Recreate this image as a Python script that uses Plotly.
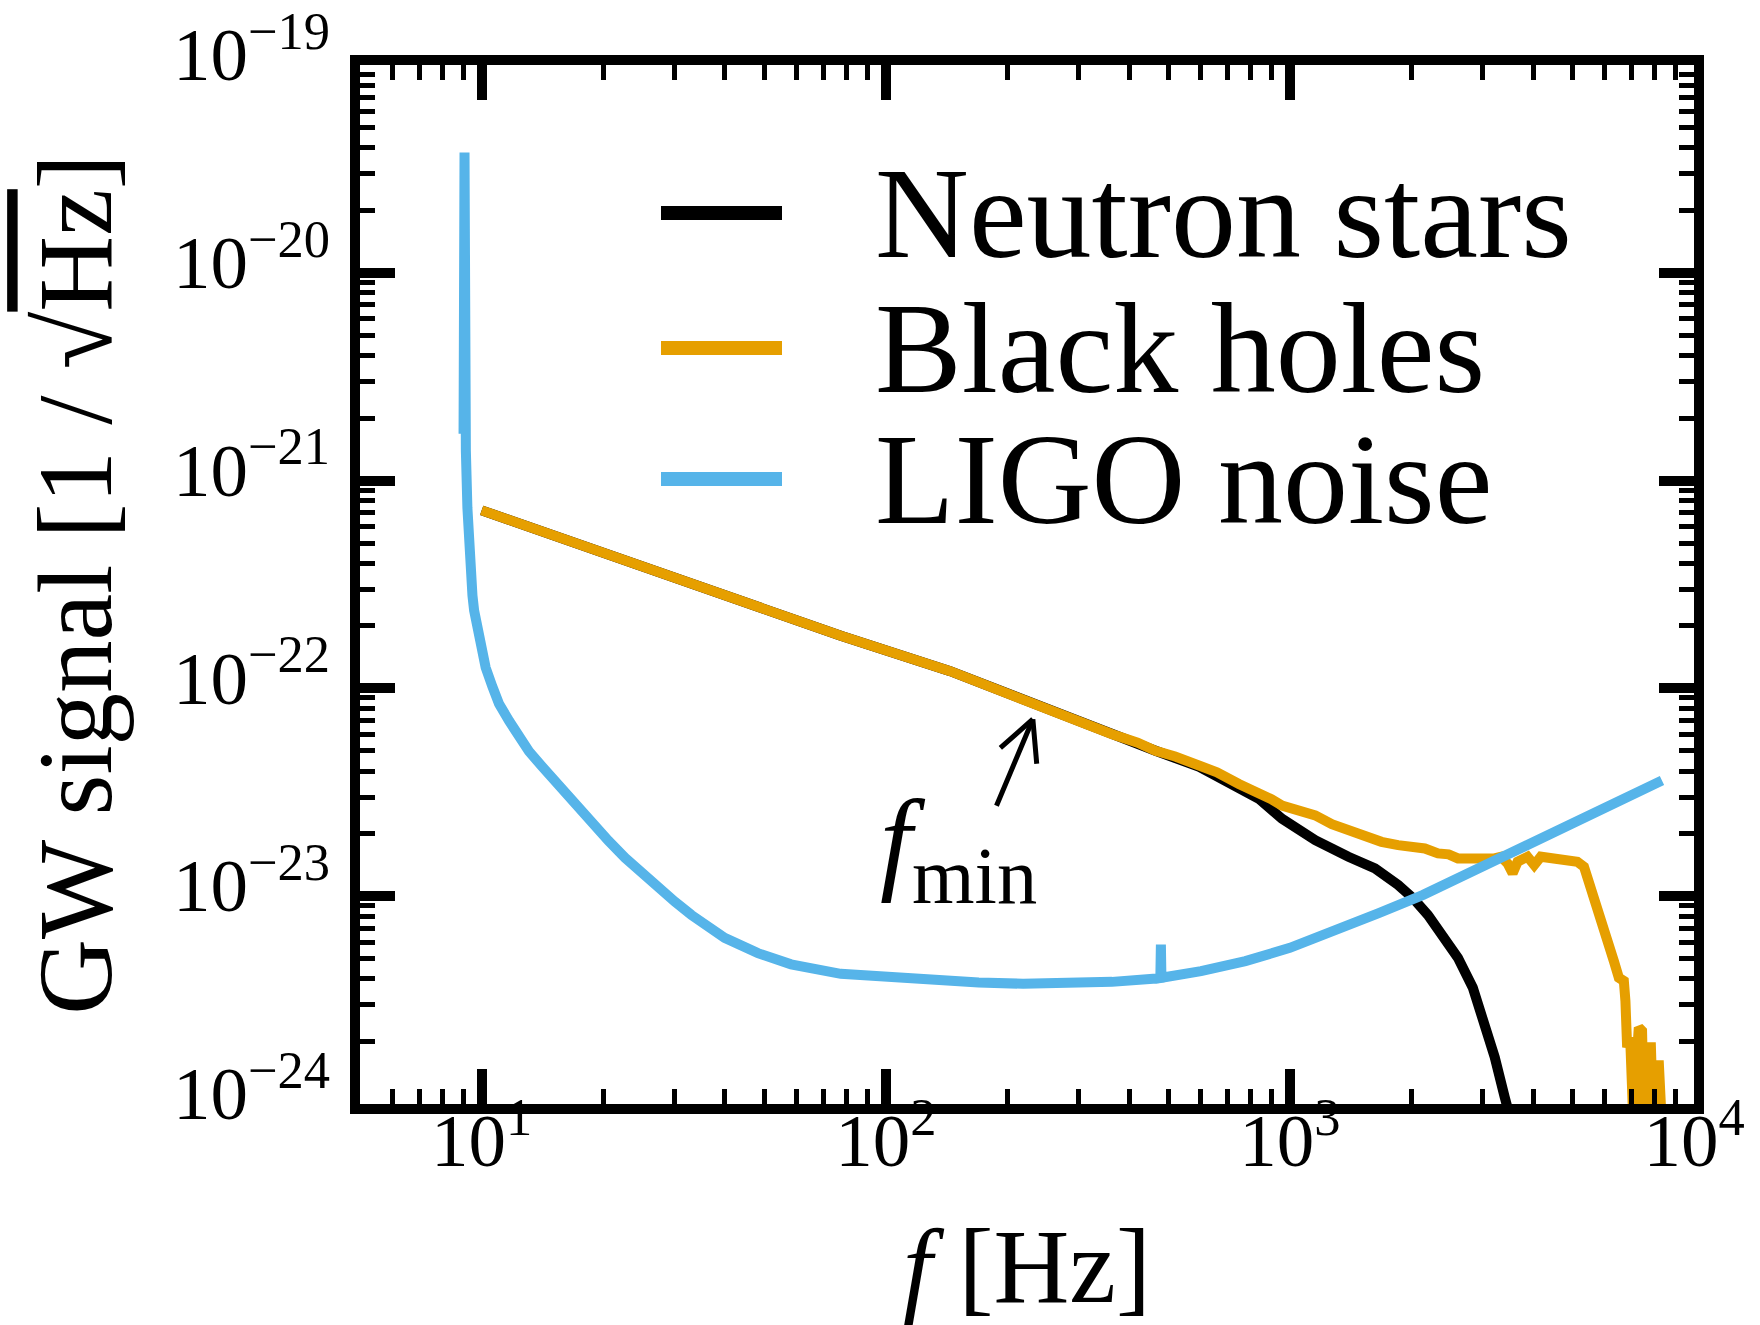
import numpy as np
import plotly.graph_objects as go

# ---- Gravitational-wave amplitude spectra (f in Hz, signal in 1/sqrt(Hz)) ----
ns_f = [10, 20, 40, 77.4, 144.4, 231.6, 363.3, 465, 596.6, 747.9, 837.8, 956.1,
        1155.6, 1395.7, 1624, 1853, 2018, 2197, 2392, 2605, 2836, 3035, 3213,
        3400, 3556]
ns_h = [7.19e-22, 4.46e-22, 2.76e-22, 1.793e-22, 1.21e-22, 8.38e-23, 6.02e-23,
        5.01e-23, 4.19e-23, 3.286e-23, 2.944e-23, 2.361e-23, 1.859e-23, 1.549e-23,
        1.361e-23, 1.133e-23, 9.78e-24, 8.11e-24, 6.51e-24, 5.05e-24, 3.63e-24,
        2.47e-24, 1.68e-24, 1.08e-24, 7.8e-25]

bh_f = [10, 20, 40, 77.4, 144.4, 231.6, 300, 363.3, 420, 465, 520, 596.6, 660,
        747.9, 837.8, 900, 956.1, 1050, 1155.6, 1270, 1395.7, 1540, 1685, 1853,
        2000, 2157, 2325, 2470, 2605, 2808, 3030, 3208, 3330, 3458, 3558, 3660,
        3874, 4024, 4178, 4422, 4770, 5144, 5343, 5497, 5601, 5762, 5928, 6099,
        6214, 6335, 6517, 6705, 6766, 6832, 6950, 7069, 7300, 7438, 7519, 7692,
        7824, 7916, 8051, 8189, 8331]
bh_h = [7.19e-22, 4.46e-22, 2.76e-22, 1.793e-22, 1.21e-22, 8.38e-23, 6.95e-23,
        6.02e-23, 5.48e-23, 5.01e-23, 4.70e-23, 4.25e-23, 3.95e-23, 3.47e-23,
        3.17e-23, 2.93e-23, 2.73e-23, 2.60e-23, 2.45e-23, 2.22e-23, 2.075e-23,
        1.97e-23, 1.827e-23, 1.76e-23, 1.74e-23, 1.697e-23, 1.606e-23, 1.59e-23,
        1.52e-23, 1.52e-23, 1.492e-23, 1.52e-23, 1.549e-23, 1.438e-23, 1.288e-23,
        1.466e-23, 1.549e-23, 1.412e-23, 1.549e-23, 1.52e-23, 1.466e-23, 1.466e-23,
        1.387e-23, 1.176e-23, 1.015e-23, 8.45e-24, 7.57e-24, 6.53e-24, 5.64e-24,
        4.87e-24, 4.05e-24, 3.91e-24, 3.13e-24, 1.874e-24, 2.09e-24, 8.7e-25,
        2.335e-24, 2.25e-24, 8.7e-25, 1.874e-24, 1.874e-24, 8.7e-25, 1.537e-24,
        1.537e-24, 7.8e-25]

ligo_f = [9.02, 9.07, 9.14, 9.22, 9.31, 9.49, 9.58, 9.76, 10.04, 10.23, 10.63,
          11.04, 11.69, 12.37, 13.09, 14.11, 15.52, 17.05, 18.74, 20.6, 22.64,
          24.89, 27.36, 30.07, 33.05, 39.93, 48.26, 53.0, 58.30, 77.38, 102.3,
          131.8, 169.8, 218.7, 281.8, 362.9, 467.4, 478.0, 479.5, 481.0, 602.6,
          776.2, 1000, 1288, 1659, 2137, 2750, 3330, 5243, 8332]
ligo_h = [1.68e-21, 3.79e-20, 1.39e-21, 7.39e-22, 4.27e-22, 2.80e-22, 2.37e-22,
          1.92e-22, 1.43e-22, 1.26e-22, 1.02e-22, 8.43e-23, 6.98e-23, 5.89e-23,
          4.98e-23, 4.21e-23, 3.40e-23, 2.76e-23, 2.24e-23, 1.847e-23, 1.53e-23,
          1.291e-23, 1.09e-23, 9.41e-24, 8.12e-24, 6.30e-24, 5.32e-24, 5.00e-24,
          4.70e-24, 4.23e-24, 4.08e-24, 3.93e-24, 3.84e-24, 3.79e-24, 3.79e-24,
          3.87e-24, 4.02e-24, 4.04e-24, 5.85e-24, 4.05e-24, 4.36e-24, 4.87e-24,
          5.64e-24, 6.78e-24, 8.29e-24, 1.015e-23, 1.29e-23, 1.55e-23, 2.35e-23,
          3.60e-23]

series_names = ["Neutron stars", "Black holes", "LIGO noise"]
series_colors = ["#000000", "#E69F00", "#56B4E9"]

# axis ticks
x_major = [10, 100, 1000, 10000]
x_major_text = ["10<sup>1</sup>", "10<sup>2</sup>", "10<sup>3</sup>", "10<sup>4</sup>"]
x_minor = [m * 10 ** e for e in range(0, 4) for m in range(2, 10) if 5 < m * 10 ** e < 10000]
y_major = [1e-24, 1e-23, 1e-22, 1e-21, 1e-20, 1e-19]
y_major_text = ["10<sup>\u221224</sup>", "10<sup>\u221223</sup>", "10<sup>\u221222</sup>",
                "10<sup>\u221221</sup>", "10<sup>\u221220</sup>", "10<sup>\u221219</sup>"]
y_minor = [m * 10.0 ** e for e in range(-24, -19) for m in range(2, 10)]

# annotation target on the inspiral line
fmin_f, fmin_h = 231.2, 7.11e-23

FONT = "Liberation Serif"
W, H = 1760, 1325
ML, MR, MT, MB = 360, 66, 65, 221
PW, PH = W - ML - MR, H - MT - MB

fig = go.Figure()
for fx, hy, name, col in zip([ns_f, bh_f, ligo_f], [ns_h, bh_h, ligo_h],
                             series_names, series_colors):
    fig.add_trace(go.Scatter(x=fx, y=hy, mode="lines", name=name,
                             line=dict(color=col, width=10), showlegend=False))

axis_common = dict(
    type="log", showline=True, linewidth=10, linecolor="black", mirror="allticks",
    ticks="inside", ticklen=35, tickwidth=10, tickcolor="black", showgrid=False,
    zeroline=False, tickmode="array", automargin=False,
    tickfont=dict(family=FONT, size=75, color="black"),
)

fig.update_xaxes(
    **axis_common, range=[np.log10(5), 4], tickvals=x_major, ticktext=x_major_text,
    ticklabelstandoff=-38,
    minor=dict(tickmode="array", tickvals=x_minor, ticks="inside", ticklen=15,
               tickwidth=5, tickcolor="black", showgrid=False),
    title=dict(text="<i>f</i> [Hz]", font=dict(family=FONT, size=105, color="black"),
               standoff=76),
)
fig.update_yaxes(
    **axis_common, range=[-24, -19], tickvals=y_major, ticktext=y_major_text,
    ticklabelstandoff=5, ticklabelshift=-11,
    minor=dict(tickmode="array", tickvals=y_minor, ticks="inside", ticklen=15,
               tickwidth=5, tickcolor="black", showgrid=False),
    title=dict(text='GW signal [1 / \u221a<span style="text-decoration:overline">Hz</span>]',
               font=dict(family=FONT, size=105, color="black"), standoff=30),
)

# legend drawn inside the axes: sample line + label
leg_y = [213, 348, 479]
for yy, name, col in zip(leg_y, series_names, series_colors):
    yp = (MT + PH - yy) / PH
    fig.add_shape(type="line", xref="paper", yref="paper",
                  x0=(661 - ML) / PW, x1=(782 - ML) / PW, y0=yp, y1=yp,
                  line=dict(color=col, width=14))
    fig.add_annotation(xref="paper", yref="paper", x=(873 - ML) / PW, y=yp,
                       xanchor="left", yanchor="middle", showarrow=False,
                       text=name, font=dict(family=FONT, size=130, color="black"))

# f_min arrow (shaft + open chevron head)
tip = dict(x=np.log10(fmin_f), y=np.log10(fmin_h), xref="x", yref="y", text="",
           showarrow=True, arrowhead=0, arrowcolor="black", axref="pixel", ayref="pixel")
fig.add_annotation(**tip, ax=-37, ay=88, arrowwidth=5)
fig.add_annotation(**tip, ax=-34, ay=30, arrowwidth=5)
fig.add_annotation(**tip, ax=4, ay=46, arrowwidth=5)
fig.add_annotation(xref="paper", yref="paper", x=(958 - ML) / PW, y=(MT + PH - 848) / PH,
                   xanchor="center", yanchor="middle", showarrow=False,
                   text="<i>f</i><sub>min</sub>",
                   font=dict(family=FONT, size=115, color="black"))

fig.update_layout(
    width=W, height=H, margin=dict(l=ML, r=MR, t=MT, b=MB, autoexpand=False),
    paper_bgcolor="white", plot_bgcolor="white", showlegend=False,
)

fig.write_html("out.html")
